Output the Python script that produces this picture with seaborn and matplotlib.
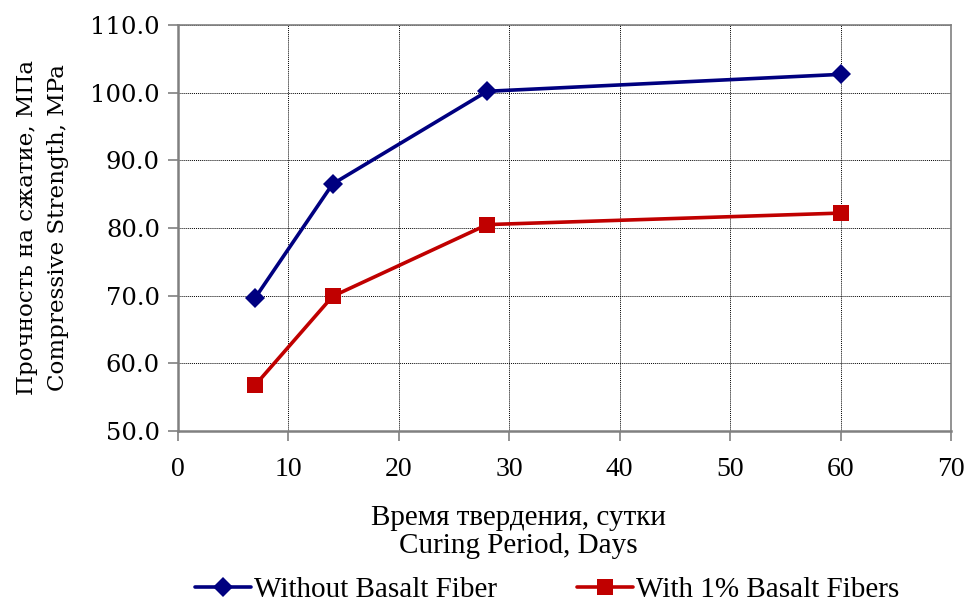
import numpy as np
import pandas as pd
import matplotlib
matplotlib.use("Agg")
import matplotlib.pyplot as plt
import seaborn as sns

# curing period (days) and compressive strength (MPa)
days = [7, 14, 28, 60]
strength_plain = [69.7, 86.5, 100.2, 102.7]
strength_basalt = [56.8, 69.9, 80.5, 82.2]
series_names = ["Without Basalt Fiber", "With 1% Basalt Fibers"]

df = pd.DataFrame({
    "days": days * 2,
    "strength": strength_plain + strength_basalt,
    "series": [series_names[0]] * len(days) + [series_names[1]] * len(days),
})

sns.set_style("white")
plt.rcParams["font.family"] = ["DejaVu Serif"]
plt.rcParams["text.color"] = "black"
plt.rcParams["axes.labelcolor"] = "black"
plt.rcParams["xtick.color"] = "black"
plt.rcParams["ytick.color"] = "black"

fig = plt.figure(figsize=(9.69, 6.06), dpi=100)
ax = fig.add_axes([0.1837, 0.2888, 0.7977, 0.67])

sns.lineplot(data=df, x="days", y="strength", hue="series", style="series",
             markers={series_names[0]: "D", series_names[1]: "s"}, dashes=False,
             palette={series_names[0]: "#000080", series_names[1]: "#C00000"},
             linewidth=2.6, markersize=11, markeredgewidth=0, ax=ax, legend=False)
ax.lines[0].set_markersize(10.5)

ax.set_xlim(0, 70)
ax.set_ylim(50, 110)
ax.set_xticks(np.arange(0, 71, 10))
ax.set_yticks(np.arange(50, 111, 10))
ax.set_yticklabels([f"{v:.1f}" for v in np.arange(50, 111, 10)], fontsize=17.5)
ax.set_xticklabels([str(v) for v in range(0, 71, 10)], fontsize=20, family="Liberation Serif")

ax.grid(True, color="black", linestyle=(0, (1, 1)), linewidth=0.7)
ax.set_axisbelow(True)
for s in ax.spines.values():
    s.set_color("#808080")
    s.set_linewidth(1.2)
ax.spines["left"].set_linewidth(1.8)
ax.spines["bottom"].set_linewidth(1.8)
ax.tick_params(axis="both", direction="out", length=7, width=1.2, color="#808080",
               labelcolor="black", bottom=True, left=True, pad=6)
ax.tick_params(axis="x", pad=12)

ax.set_ylabel("Прочность на сжатие, МПа\nCompressive Strength, MPa", fontsize=16.6,
              linespacing=1.55, labelpad=15)
ax.set_xlabel("Время твердения, сутки\nCuring Period, Days", fontsize=21,
              family="Liberation Serif", linespacing=1.1)
ax.xaxis.set_label_coords((518 - 178) / 773, -0.182)

handles = [plt.Line2D([], [], color="#000080", marker="D", markersize=10.5, linewidth=2.6,
                      markeredgewidth=0),
           plt.Line2D([], [], color="#C00000", marker="s", markersize=11, linewidth=2.6,
                      markeredgewidth=0)]
fig.legend(handles, series_names, loc="lower center", ncol=2, frameon=False,
           bbox_to_anchor=(0.565, -0.038), prop={"family": "Liberation Serif", "size": 21},
           handlelength=1.9, handletextpad=0.12, columnspacing=2.75)

fig.savefig("out.png", dpi=100)
